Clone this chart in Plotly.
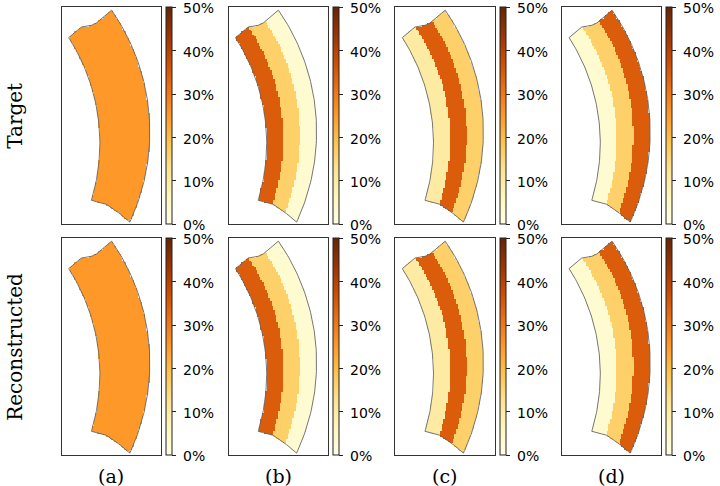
import numpy as np
import plotly.graph_objects as go

# ---- data: band values (inner -> outer ring) for each panel, as fractions ----
panel_labels = ["(a)", "(b)", "(c)", "(d)"]
row_labels = ["Target", "Reconstructed"]
target_a = [0.25, 0.25, 0.25]
target_b = [0.345, 0.163, 0.031]
target_c = [0.099, 0.345, 0.163]
target_d = [0.031, 0.163, 0.345]
recon_a = [0.25, 0.25, 0.25]
recon_b = [0.345, 0.163, 0.031]
recon_c = [0.099, 0.345, 0.163]
recon_d = [0.031, 0.163, 0.345]
cbar_ticks = [0.0, 0.1, 0.2, 0.3, 0.4, 0.5]
cbar_ticktext = ["0%", "10%", "20%", "30%", "40%", "50%"]

rows = [[target_a, target_b, target_c, target_d],
        [recon_a, recon_b, recon_c, recon_d]]

# ---- geometry of the domain (panel-local pixel units) ----
W, H = 99.3, 217.0
OUT_C, OUT_R = (-125.1, 124.6), 213.2
IN_C, IN_R = (-156.2, 136.0), 194.4
top_x = [7.0, 19.7, 29.7, 34.7, 49.7]
top_y = [30.3, 19.7, 18.0, 15.7, 3.0]
bot_x = [29.7, 44.7, 58.0, 68.0]
bot_y = [193.0, 197.0, 206.3, 214.7]

cell = 1.6
xs = np.arange(cell / 2, W, cell)
ys = np.arange(cell / 2, H, cell)
XX, YY = np.meshgrid(xs, ys)
d_out = OUT_R - np.hypot(XX - OUT_C[0], YY - OUT_C[1])
d_in = np.hypot(XX - IN_C[0], YY - IN_C[1]) - IN_R
inside = (d_out >= 0) & (d_in >= 0)
inside &= YY >= np.interp(XX, top_x, top_y)
inside &= YY <= np.interp(XX, bot_x, bot_y)
tt = np.clip(d_in / np.maximum(d_in + d_out, 1e-9), 0, 1)
band = np.minimum((tt * 3).astype(int), 2)

# outline polygon
def arc(c, r, a0, a1, n=80):
    a = np.linspace(a0, a1, n)
    return c[0] + r * np.cos(a), c[1] - r * np.sin(a)

def ang(c, x, y):
    return np.arctan2(c[1] - y, x - c[0])

ox, oy = arc(OUT_C, OUT_R, ang(OUT_C, top_x[-1], top_y[-1]), ang(OUT_C, bot_x[-1], bot_y[-1]))
ix, iy = arc(IN_C, IN_R, ang(IN_C, bot_x[0], bot_y[0]), ang(IN_C, top_x[0], top_y[0]))
px = list(ox) + bot_x[::-1] + list(ix) + top_x + [ox[0]]
py = list(oy) + bot_y[::-1] + list(iy) + top_y + [oy[0]]

fig = go.Figure()
FW, FH = 720, 486
lefts = [61.7 + 166.8 * k for k in range(4)]
tops = [7.3, 238.3]
CB_OFF, CB_TH = 104.3, 6

for r in range(2):
    for c in range(4):
        idx = r * 4 + c + 1
        xa = "x" if idx == 1 else f"x{idx}"
        ya = "y" if idx == 1 else f"y{idx}"
        vals = np.array(rows[r][c])
        z = np.where(inside, vals[band], np.nan)
        x0, y0 = lefts[c], tops[r]
        fig.add_trace(go.Heatmap(
            x=xs, y=ys, z=z, xaxis=xa, yaxis=ya,
            colorscale="YlOrBr", zmin=0, zmax=0.5, zsmooth=False,
            hoverinfo="skip",
            colorbar=dict(
                x=(x0 + CB_OFF) / FW, xanchor="left", xpad=0, ypad=0,
                y=1 - (y0 + H) / FH, yanchor="bottom",
                len=H / FH, lenmode="fraction",
                thickness=CB_TH, thicknessmode="pixels",
                outlinewidth=1, outlinecolor="#222",
                ticks="outside", ticklen=4, tickwidth=1, tickcolor="#222",
                tickvals=cbar_ticks, showticklabels=False,
            ),
        ))
        # colorbar tick labels (matplotlib-like placement)
        for tv, tx in zip(cbar_ticks, cbar_ticktext):
            ypix = y0 + H * (1 - tv / 0.5) + 1
            fig.add_annotation(text=tx, x=(x0 + CB_OFF + CB_TH + 10) / FW,
                               y=1 - ypix / FH, xref="paper", yref="paper",
                               xanchor="left", yanchor="middle", showarrow=False,
                               borderpad=0,
                               font=dict(family="DejaVu Sans", size=14, color="black"))
        fig.add_trace(go.Scatter(
            x=px, y=py, xaxis=xa, yaxis=ya, mode="lines",
            line=dict(color="#666", width=0.9), hoverinfo="skip", showlegend=False,
        ))
        axkw = dict(showgrid=False, zeroline=False, showticklabels=False, ticks="",
                    showline=True, mirror=True, linecolor="#333", linewidth=1)
        fig.layout[xa.replace("x", "xaxis")] = dict(
            domain=[x0 / FW, (x0 + W) / FW], range=[0, W], anchor=ya, **axkw)
        fig.layout[ya.replace("y", "yaxis")] = dict(
            domain=[1 - (y0 + H) / FH, 1 - y0 / FH], range=[H, 0], anchor=xa, **axkw)

for r, lab in enumerate(row_labels):
    fig.add_annotation(text=lab, x=15 / FW, y=1 - (tops[r] + H / 2) / FH,
                       xref="paper", yref="paper", showarrow=False, textangle=-90,
                       xanchor="center", yanchor="middle",
                       font=dict(family="DejaVu Serif", size=20, color="black"))
for c, lab in enumerate(panel_labels):
    fig.add_annotation(text=lab, x=(lefts[c] + W / 2) / FW, y=1 - 476 / FH,
                       xref="paper", yref="paper", showarrow=False,
                       xanchor="center", yanchor="middle",
                       font=dict(family="DejaVu Serif", size=19, color="black"))

fig.update_layout(width=FW, height=FH, margin=dict(l=0, r=0, t=0, b=0),
                  paper_bgcolor="white", plot_bgcolor="white", showlegend=False)
fig.write_html("out.html")
